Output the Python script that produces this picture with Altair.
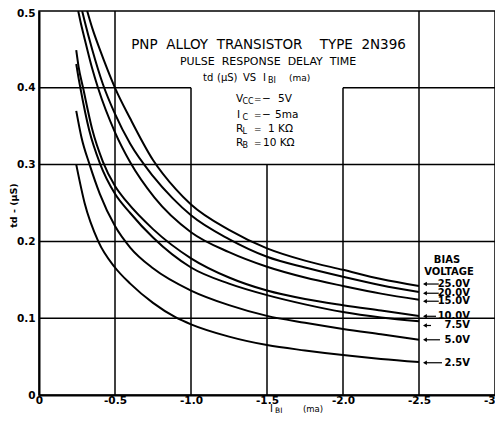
import altair as alt
import pandas as pd

# ---- curve data: base current I_BI (ma) vs delay time td (uS), per bias voltage ----
X_25 = [-0.317, -0.35, -0.4, -0.45, -0.5, -0.6, -0.75, -0.9, -1.0, -1.25, -1.5, -1.75, -2.0, -2.25, -2.5]
Y_25 = [0.500, 0.478, 0.450, 0.424, 0.400, 0.360, 0.306, 0.268, 0.248, 0.215, 0.191, 0.175, 0.163, 0.151, 0.142]
X_20 = [-0.284, -0.3, -0.35, -0.42, -0.5, -0.6, -0.75, -0.88, -1.0, -1.25, -1.5, -1.75, -2.0, -2.25, -2.5]
Y_20 = [0.500, 0.487, 0.450, 0.405, 0.366, 0.327, 0.285, 0.256, 0.234, 0.203, 0.180, 0.166, 0.154, 0.143, 0.134]
X_15 = [-0.258, -0.272, -0.3, -0.35, -0.388, -0.5, -0.6, -0.76, -1.0, -1.25, -1.5, -1.75, -2.0, -2.25, -2.5]
Y_15 = [0.500, 0.487, 0.464, 0.425, 0.400, 0.342, 0.303, 0.257, 0.212, 0.186, 0.167, 0.153, 0.142, 0.132, 0.124]
X_10 = [-0.245, -0.26, -0.29, -0.35, -0.42, -0.5, -0.58, -0.75, -1.0, -1.25, -1.5, -1.75, -2.0, -2.25, -2.5]
Y_10 = [0.449, 0.428, 0.400, 0.346, 0.304, 0.272, 0.251, 0.216, 0.178, 0.153, 0.136, 0.125, 0.117, 0.110, 0.103]
X_75 = [-0.245, -0.26, -0.272, -0.33, -0.40, -0.5, -0.6, -0.75, -1.0, -1.25, -1.5, -1.75, -2.0, -2.25, -2.5]
Y_75 = [0.431, 0.413, 0.400, 0.345, 0.302, 0.262, 0.237, 0.205, 0.166, 0.145, 0.130, 0.118, 0.108, 0.101, 0.096]
X_50 = [-0.245, -0.28, -0.333, -0.4, -0.5, -0.6, -0.75, -1.0, -1.25, -1.5, -1.75, -2.0, -2.25, -2.5]
Y_50 = [0.370, 0.335, 0.300, 0.262, 0.220, 0.192, 0.165, 0.136, 0.117, 0.103, 0.094, 0.086, 0.079, 0.072]
X_25B = [-0.245, -0.3, -0.39, -0.5, -0.6, -0.75, -0.9, -1.0, -1.25, -1.5, -1.75, -2.0, -2.25, -2.5]
Y_25B = [0.300, 0.250, 0.200, 0.166, 0.145, 0.120, 0.101, 0.092, 0.076, 0.065, 0.058, 0.052, 0.047, 0.043]

BIAS_LABELS = ["25.0V", "20.0V", "15.0V", "10.0V", "7.5V", "5.0V", "2.5V"]
CURVES_X = [X_25, X_20, X_15, X_10, X_75, X_50, X_25B]
CURVES_Y = [Y_25, Y_20, Y_15, Y_10, Y_75, Y_50, Y_25B]

# legend label positions (label y, arrow tail x)
LEG_Y = [0.1445, 0.1325, 0.1221, 0.1025, 0.0905, 0.0719, 0.0420]
LEG_TAIL = [-2.630, -2.630, -2.630, -2.612, -2.579, -2.638, -2.651]
LEG_HEAD = -2.539
LEG_TEXT_X = -2.836

# ---- axis ticks ----
X_TICKS = [0, -0.5, -1.0, -1.5, -2.0, -2.5, -3.0]
Y_TICKS = [0, 0.1, 0.2, 0.3, 0.4, 0.5]

# ---- grid segments (partial grid, title area left open) ----
VG_X = [-0.5, -1.0, -1.5, -2.0, -2.5]
VG_TOP = [0.5, 0.4, 0.3, 0.4, 0.5]
HG_Y = [0.1, 0.2, 0.3, 0.4, 0.4]
HG_X1 = [0.0, 0.0, 0.0, 0.0, -2.0]
HG_X2 = [-3.0, -3.0, -3.0, -1.0, -3.0]

# ---- annotation text ----
NB = "\u00a0"
CENTER_TEXT = ["PNP" + NB * 2 + "ALLOY" + NB * 2 + "TRANSISTOR" + NB * 4 + "TYPE" + NB * 2 + "2N396",
               "PULSE" + NB * 2 + "RESPONSE" + NB * 2 + "DELAY" + NB * 2 + "TIME", "BIAS", "VOLTAGE"]
CENTER_X = [-1.510, -1.507, -2.684, -2.697]
CENTER_Y = [0.4557, 0.4336, 0.1758, 0.1608]
CENTER_SIZE = [13.5, 11, 10, 10]
CENTER_WEIGHT = ["normal", "normal", "bold", "bold"]

LEFT_TEXT = ["td", "(\u03bcS)", "VS", "I", "BI", "(ma)",
             "V", "CC", "=", "\u2212", "5V",
             "I", "C", "=", "\u2212", "5ma",
             "R", "L", "=", "1" + NB + "K\u03a9",
             "R", "B", "=", "10" + NB + "K\u03a9",
             "I", "BI", "(ma)"]
LEFT_X = [-1.0789, -1.1711, -1.3421, -1.4737, -1.5066, -1.6447,
          -1.2961, -1.3388, -1.4145, -1.4671, -1.5724,
          -1.3026, -1.3388, -1.4145, -1.4671, -1.5526,
          -1.2961, -1.3388, -1.4145, -1.5066,
          -1.2961, -1.3388, -1.4145, -1.4737,
          -1.5197, -1.5526, -1.7368]
LEFT_Y = [0.4128, 0.4128, 0.4128, 0.4128, 0.4089, 0.4128,
          0.3854, 0.3815, 0.3854, 0.3854, 0.3854,
          0.3646, 0.3607, 0.3646, 0.3646, 0.3646,
          0.3464, 0.3425, 0.3464, 0.3464,
          0.3281, 0.3242, 0.3281, 0.3281,
          -0.0182, -0.0208, -0.0182]
LEFT_SIZE = [10, 10, 10, 10, 8, 9,
             10.5, 8, 9, 10.5, 10.5,
             10.5, 8, 9, 10.5, 10.5,
             10.5, 8, 9, 10.5,
             10.5, 8, 9, 10.5,
             10, 7.5, 8.5]

FONT = "DejaVu Sans"

rows = []
for lab, xs, ys in zip(BIAS_LABELS, CURVES_X, CURVES_Y):
    for x, y in zip(xs, ys):
        rows.append({"bias": lab, "i": x, "td": y})
curves_df = pd.DataFrame(rows)

xscale = alt.Scale(domain=[0, -3.0], nice=False, zero=False)
yscale = alt.Scale(domain=[0, 0.5], nice=False)

x_axis = alt.Axis(values=X_TICKS, grid=False, ticks=False, domainColor="black", domainWidth=2,
                  labelExpr="datum.value == 0 ? '0' : '-' + format(-datum.value, '.1f')",
                  labelFont=FONT, labelFontSize=10.5, labelFontWeight="bold", labelColor="black",
                  labelPadding=0, labelFlush=False, labelOverlap=False, title=None)
y_axis = alt.Axis(values=Y_TICKS, grid=False, ticks=False, domainColor="black", domainWidth=2,
                  labelExpr="datum.value == 0 ? '0' : format(datum.value, '.1f')",
                  labelFont=FONT, labelFontSize=10.5, labelFontWeight="bold", labelColor="black",
                  labelPadding=4, labelFlush=False, labelOverlap=False,
                  labelOffset={"condition": {"test": "datum.value == 0.5", "value": 2}, "value": 0},
                  title="td - (\u03bcS)", titleFont=FONT, titleFontSize=9.5,
                  titleFontWeight="bold", titleColor="black", titleX=-26, titleY=194,
                  titleAngle=270, titleAlign="center", titleBaseline="middle")


def X(field):
    return alt.X(field, type="quantitative", scale=xscale, axis=x_axis)


def Y(field):
    return alt.Y(field, type="quantitative", scale=yscale, axis=y_axis)


curves = alt.Chart(curves_df).mark_line(color="black", strokeWidth=2, interpolate="monotone", clip=True).encode(
    x=X("i"),
    y=Y("td"),
    detail="bias:N",
    order=alt.Order("i:Q", sort="descending"),
)

vg_df = pd.DataFrame({"x": VG_X, "y1": [0] * len(VG_X), "y2": VG_TOP})
vgrid = alt.Chart(vg_df).mark_rule(color="black", strokeWidth=1.5).encode(
    x=X("x"), y=Y("y1"), y2="y2:Q",
)
hg_df = pd.DataFrame({"y": HG_Y, "x1": HG_X1, "x2": HG_X2})
hgrid = alt.Chart(hg_df).mark_rule(color="black", strokeWidth=1.5).encode(
    y=Y("y"), x=X("x1"), x2="x2:Q",
)

c_df = pd.DataFrame({"t": CENTER_TEXT, "x": CENTER_X, "y": CENTER_Y, "s": CENTER_SIZE, "w": CENTER_WEIGHT})
ctext_n = alt.Chart(c_df[c_df.w == "normal"]).mark_text(align="center", baseline="middle", font=FONT,
                                                        color="black").encode(
    x=X("x"), y=Y("y"), text="t:N",
    size=alt.Size("s:Q", scale=None, legend=None),
)
ctext_b = alt.Chart(c_df[c_df.w == "bold"]).mark_text(align="center", baseline="middle", font=FONT,
                                                      fontWeight="bold", color="black").encode(
    x=X("x"), y=Y("y"), text="t:N",
    size=alt.Size("s:Q", scale=None, legend=None),
)
l_df = pd.DataFrame({"t": LEFT_TEXT, "x": LEFT_X, "y": LEFT_Y, "s": LEFT_SIZE})
ltext = alt.Chart(l_df).mark_text(align="left", baseline="middle", font=FONT, color="black").encode(
    x=X("x"), y=Y("y"), text="t:N",
    size=alt.Size("s:Q", scale=None, legend=None),
)

leg_df = pd.DataFrame({"t": BIAS_LABELS, "y": LEG_Y, "tail": LEG_TAIL,
                       "head": [LEG_HEAD] * len(BIAS_LABELS), "tx": [LEG_TEXT_X] * len(BIAS_LABELS)})
leg_text = alt.Chart(leg_df).mark_text(align="right", baseline="middle", font=FONT, fontSize=10,
                                       fontWeight="bold", color="black").encode(
    x=X("tx"), y=Y("y"), text="t:N",
)
leg_line = alt.Chart(leg_df).mark_rule(color="black", strokeWidth=1.2).encode(
    x=X("head"), x2="tail:Q", y=Y("y"),
)
leg_head = alt.Chart(leg_df).mark_point(shape="triangle-left", filled=True, color="black",
                                        size=20, opacity=1).encode(
    x=X("head"), y=Y("y"),
)

chart = alt.layer(curves, vgrid, hgrid, ctext_n, ctext_b, ltext, leg_line, leg_head, leg_text).properties(
    width=456, height=384,
    autosize=alt.AutoSizeParams(type="none"),
    padding={"left": 31, "top": 3, "right": 0, "bottom": 20},
    background="white",
).configure_view(stroke="black", strokeWidth=1.5)

chart.save("out.html", embed_options={"renderer": "svg", "actions": False})
